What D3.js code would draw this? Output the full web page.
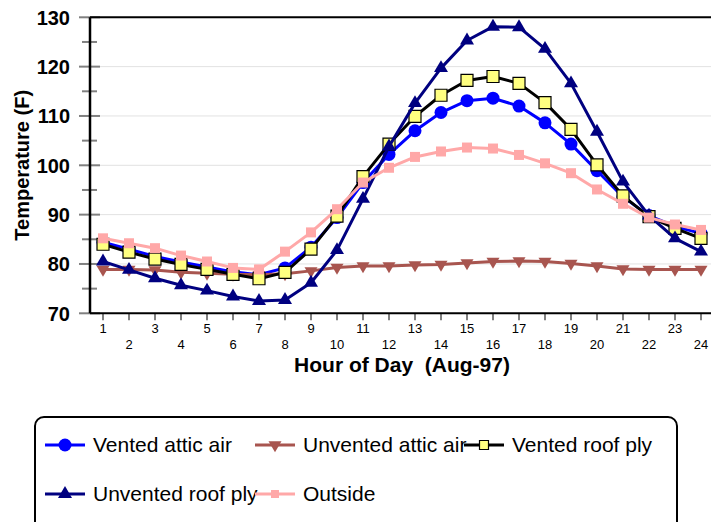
<!DOCTYPE html>
<html>
<head>
<meta charset="utf-8">
<script src="https://cdn.jsdelivr.net/npm/d3@7"></script>
<style>
    body { margin: 0; background: #fff; }
    svg { display: block; font-family: "Liberation Sans", Arial, sans-serif; }
</style>
</head>
<body>
<svg id="chart" width="711" height="522"></svg>
<script>
// hours on the x axis
const hours = d3.range(1, 25);
const yTicks = [70, 80, 90, 100, 110, 120, 130];

const ventedAtticAir = [84.4, 83.0, 81.5, 80.4, 79.4, 78.4, 77.8, 79.2, 83.4, 89.4, 96.5, 102.2,
    107.0, 110.7, 113.1, 113.6, 112.0, 108.6, 104.3, 98.9, 93.6, 89.8, 87.6, 86.2];
const unventedAtticAir = [78.9, 78.9, 78.8, 78.3, 78.1, 77.9, 77.8, 78.0, 78.6, 79.3, 79.6, 79.6,
    79.8, 79.9, 80.2, 80.5, 80.6, 80.5, 80.1, 79.6, 79.0, 78.9, 78.9, 78.9];
const ventedRoofPly = [84.0, 82.4, 81.0, 79.9, 78.9, 77.9, 77.0, 78.3, 83.0, 89.7, 97.7, 104.3,
    109.9, 114.2, 117.2, 118.0, 116.6, 112.7, 107.3, 100.1, 93.8, 89.6, 87.2, 85.2];
const unventedRoofPly = [80.5, 78.8, 77.1, 75.7, 74.6, 73.4, 72.5, 72.7, 76.2, 82.8, 93.2, 103.8,
    112.6, 119.7, 125.3, 128.1, 128.0, 123.6, 116.6, 106.8, 96.7, 89.8, 85.2, 82.5];
const outside = [85.2, 84.2, 83.2, 81.7, 80.5, 79.2, 78.9, 82.5, 86.4, 91.1, 96.5, 99.5,
    101.7, 102.8, 103.6, 103.4, 102.1, 100.4, 98.4, 95.1, 92.2, 89.4, 88.0, 86.9];

const series = [
    {name: "Vented attic air", values: ventedAtticAir, line: "#0000ff", width: 3,
        shape: "circle", fill: "#0000ff", stroke: "none", size: 6.5},
    {name: "Unvented attic air", values: unventedAtticAir, line: "#a8554f", width: 3,
        shape: "down", fill: "#a8554f", stroke: "none", size: 13},
    {name: "Vented roof ply", values: ventedRoofPly, line: "#000000", width: 3,
        shape: "square", fill: "#ffff80", stroke: "#000", size: 12},
    {name: "Unvented roof ply", values: unventedRoofPly, line: "#000080", width: 3,
        shape: "up", fill: "#000080", stroke: "none", size: 14},
    {name: "Outside", values: outside, line: "#ffa8a8", width: 3,
        shape: "square", fill: "#ffa8a8", stroke: "none", size: 10}
];

const svg = d3.select("#chart");
const mLeft = 90, mTop = 17.3, mBottom = 313.3, mRight = 714;

const x = d3.scalePoint().domain(hours).range([mLeft, mRight]).padding(0.5);
const y = d3.scaleLinear().domain([70, 130]).range([mBottom, mTop]);

function markerPath(shape, s){
    if (shape === "circle") return d3.symbol(d3.symbolCircle, Math.PI * s * s)();
    if (shape === "square") return d3.symbol(d3.symbolSquare, s * s)();
    let h = s * 0.85;
    if (shape === "up") return `M0,${-h*2/3}L${s/2},${h/3}L${-s/2},${h/3}Z`;
    return `M0,${h*2/3}L${s/2},${-h/3}L${-s/2},${-h/3}Z`;
}

// gridlines
svg.append("g").selectAll("line")
    .data(yTicks.filter(d => d > 70 && d < 130))
    .join("line")
    .attr("x1", mLeft).attr("x2", 711)
    .attr("y1", d => y(d)).attr("y2", d => y(d))
    .attr("stroke", "#e2e2e2").attr("stroke-width", 1);

// y ticks (major + minor)
const yAxis = svg.append("g");
yAxis.selectAll("line.major").data(yTicks).join("line")
    .attr("class", "major")
    .attr("x1", 79).attr("x2", 100)
    .attr("y1", d => y(d)).attr("y2", d => y(d))
    .attr("stroke", "#808080").attr("stroke-width", 2);
yAxis.selectAll("line.minor").data(d3.range(75, 130, 10)).join("line")
    .attr("class", "minor")
    .attr("x1", 82).attr("x2", 97)
    .attr("y1", d => y(d)).attr("y2", d => y(d))
    .attr("stroke", "#808080").attr("stroke-width", 2);
yAxis.selectAll("text").data(yTicks).join("text")
    .attr("x", 70).attr("y", d => y(d))
    .attr("dy", "0.36em")
    .attr("text-anchor", "end")
    .attr("font-size", 20).attr("font-weight", "bold")
    .text(d => d);

// x ticks
const xAxis = svg.append("g");
xAxis.selectAll("line").data(hours).join("line")
    .attr("x1", d => x(d)).attr("x2", d => x(d))
    .attr("y1", mBottom).attr("y2", mBottom + 7)
    .attr("stroke", "#808080").attr("stroke-width", 2);
xAxis.selectAll("text").data(hours).join("text")
    .attr("x", d => x(d))
    .attr("y", d => d % 2 === 1 ? 333 : 349)
    .attr("text-anchor", "middle")
    .attr("font-size", 13)
    .text(d => d);

// frame
svg.append("line").attr("x1", mLeft).attr("x2", 711).attr("y1", mTop).attr("y2", mTop)
    .attr("stroke", "#000").attr("stroke-width", 2);
svg.append("line").attr("x1", mLeft).attr("x2", 711).attr("y1", mBottom).attr("y2", mBottom)
    .attr("stroke", "#000").attr("stroke-width", 2);
svg.append("line").attr("x1", mLeft).attr("x2", mLeft).attr("y1", mTop).attr("y2", mBottom)
    .attr("stroke", "#000").attr("stroke-width", 2.5);

// titles
svg.append("text")
    .attr("transform", `translate(29,${(mTop + mBottom) / 2}) rotate(-90)`)
    .attr("text-anchor", "middle")
    .attr("font-size", 20).attr("font-weight", "bold")
    .text("Temperature (F)");
svg.append("text")
    .attr("x", 402).attr("y", 372)
    .attr("text-anchor", "middle")
    .attr("font-size", 21).attr("font-weight", "bold")
    .attr("xml:space", "preserve")
    .text("Hour of Day  (Aug-97)");

// series
const line = d3.line().x((d, i) => x(hours[i])).y(d => y(d));
const plot = svg.append("g");
series.forEach(s => {
    let g = plot.append("g");
    g.append("path")
        .attr("d", line(s.values))
        .attr("fill", "none")
        .attr("stroke", s.line)
        .attr("stroke-width", s.width)
        .attr("stroke-linejoin", "round");
    g.selectAll("path.m").data(s.values).join("path")
        .attr("class", "m")
        .attr("transform", (d, i) => `translate(${x(hours[i])},${y(d)})`)
        .attr("d", markerPath(s.shape, s.size))
        .attr("fill", s.fill)
        .attr("stroke", s.stroke)
        .attr("stroke-width", 1.2);
});

// legend
const legend = svg.append("g");
legend.append("rect")
    .attr("x", 35).attr("y", 417)
    .attr("width", 642).attr("height", 130)
    .attr("rx", 9)
    .attr("fill", "#fff").attr("stroke", "#000").attr("stroke-width", 2);

const colX = [45, 255, 464];
const rowY = [445, 494];
series.forEach((s, i) => {
    let lx = colX[i % 3], ly = rowY[Math.floor(i / 3)];
    let g = legend.append("g").attr("transform", `translate(${lx},${ly})`);
    g.append("line").attr("x1", 0).attr("x2", 40)
        .attr("stroke", s.line).attr("stroke-width", s.width);
    let ms = s.shape === "square" ? (s.stroke === "none" ? 8 : 9) : (s.shape === "circle" ? 6.5 : s.size);
    g.append("path")
        .attr("transform", "translate(20,0)")
        .attr("d", markerPath(s.shape, ms))
        .attr("fill", s.fill)
        .attr("stroke", s.stroke)
        .attr("stroke-width", 1.2);
    g.append("text")
        .attr("x", 48).attr("y", 7)
        .attr("font-size", 21)
        .text(s.name);
});
</script>
</body>
</html>
